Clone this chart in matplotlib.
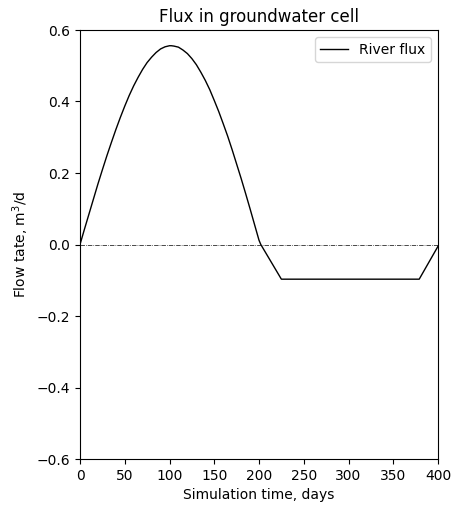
import matplotlib
matplotlib.use("Agg")
import matplotlib.pyplot as plt

days = [0, 5, 10, 15, 20, 25, 30, 35, 40, 45, 50, 55, 60, 65, 70, 75, 80, 85,
        90, 95, 100, 102, 105, 110, 115, 120, 125, 130, 135, 140, 145, 150,
        155, 160, 165, 170, 175, 180, 185, 190, 195, 200, 202, 225, 379, 400]
river_flux = [0.0, 0.043, 0.085, 0.127, 0.169, 0.209, 0.248, 0.285, 0.321,
              0.355, 0.387, 0.417, 0.444, 0.468, 0.490, 0.509, 0.524, 0.537,
              0.547, 0.553, 0.556, 0.556, 0.555, 0.552, 0.544, 0.534, 0.520,
              0.503, 0.482, 0.459, 0.433, 0.403, 0.372, 0.338, 0.303, 0.265,
              0.225, 0.185, 0.143, 0.100, 0.056, 0.012, 0.0, -0.097, -0.097,
              -0.005]

x_ticks = [0, 50, 100, 150, 200, 250, 300, 350, 400]
y_ticks = [-0.6, -0.4, -0.2, 0.0, 0.2, 0.4, 0.6]

fig = plt.figure(figsize=(4.61, 5.11), dpi=100)
ax = fig.add_axes([80/461, 1-459/511, (438-80)/461, (459-30)/511])

ax.plot(days, river_flux, color="black", lw=1.0, label="River flux")
ax.axhline(0.0, color="black", lw=0.5, ls="-.")

ax.set_xlim(0, 400)
ax.set_ylim(-0.6, 0.6)
ax.set_xticks(x_ticks)
ax.set_yticks(y_ticks)
ax.set_title("Flux in groundwater cell")
ax.set_xlabel("Simulation time, days")
ax.set_ylabel("Flow tate, m$^3$/d")
ax.legend(loc="upper right")

fig.savefig("out.png", dpi=100)
